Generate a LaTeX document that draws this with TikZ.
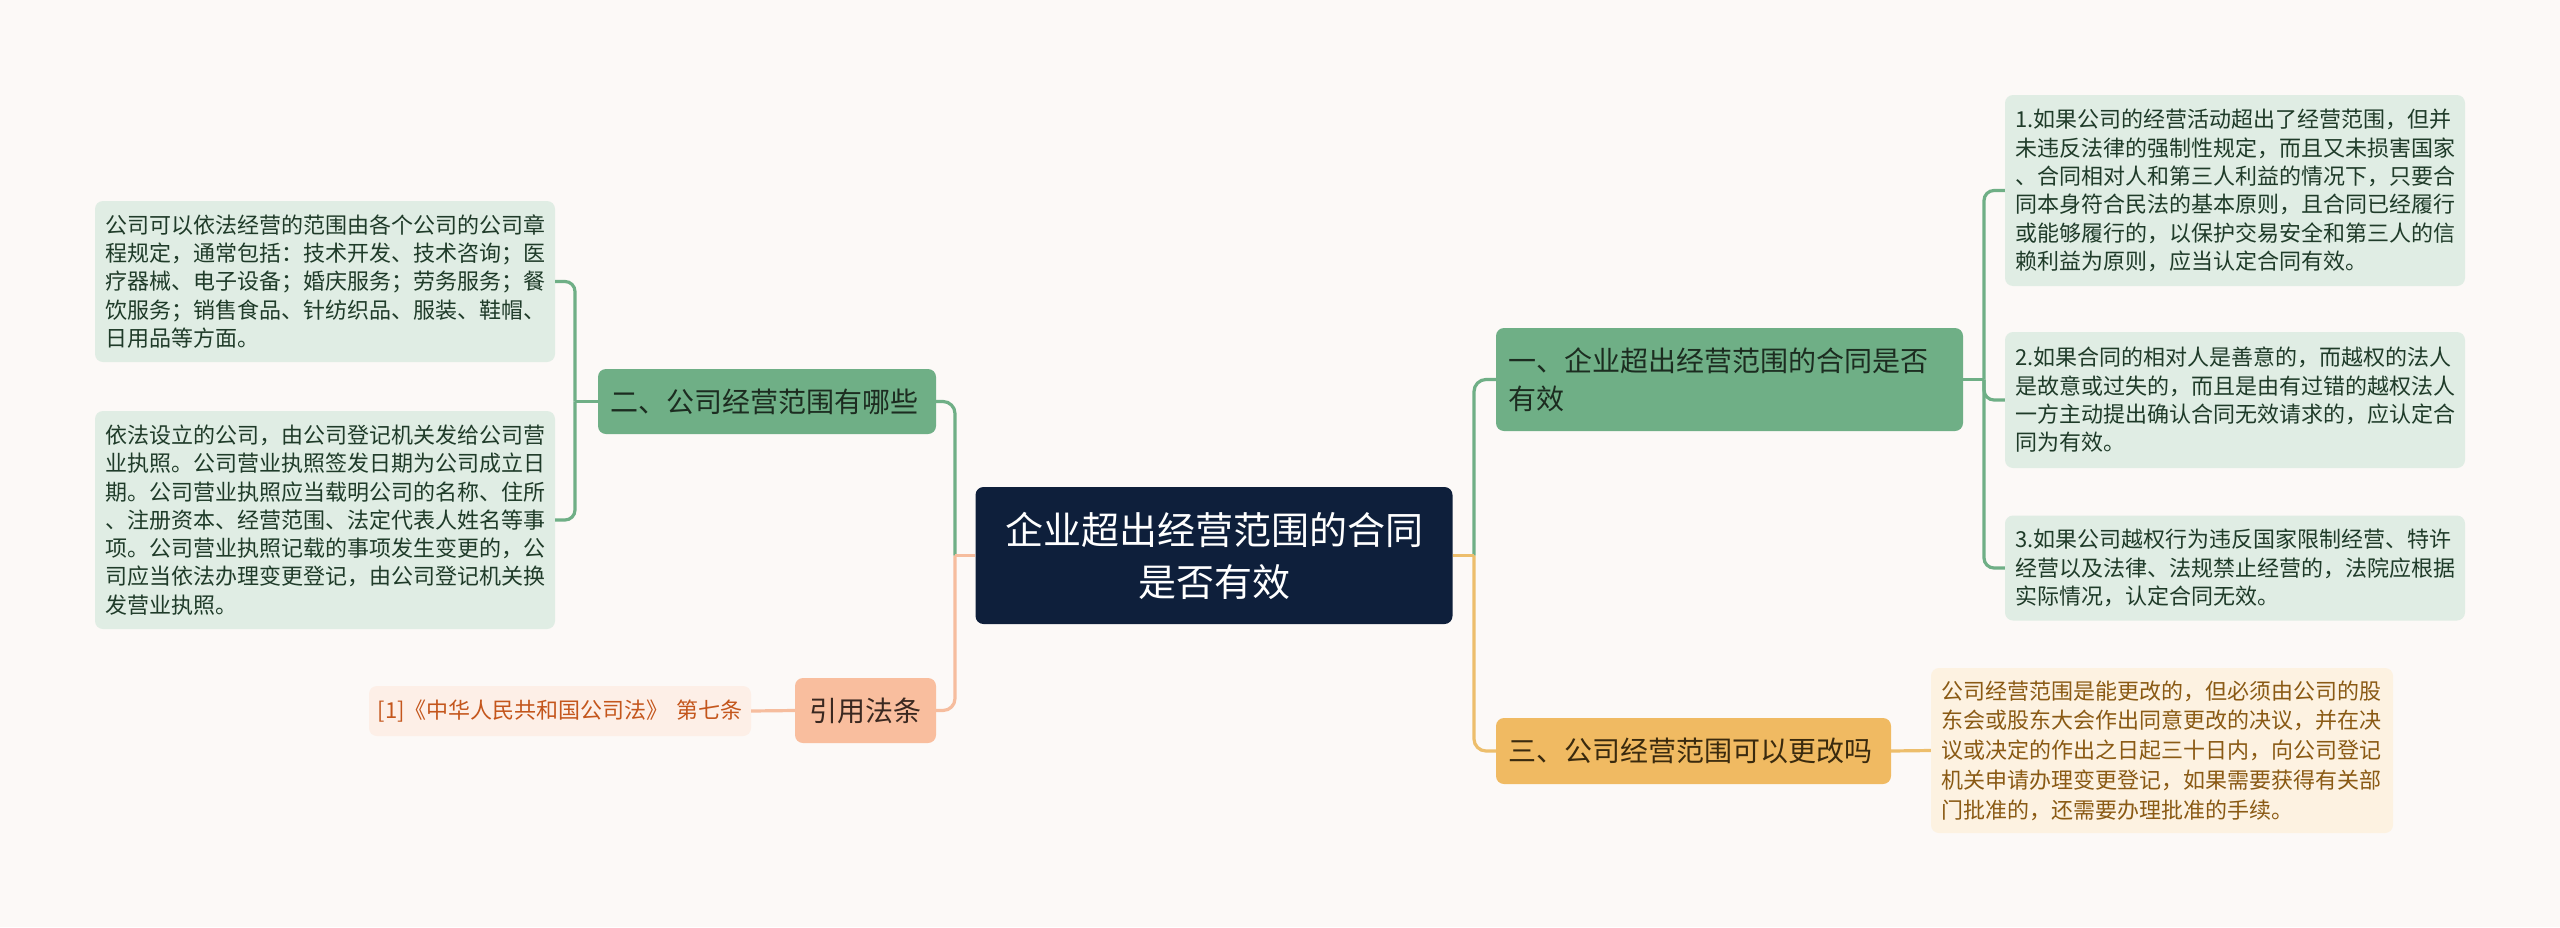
\documentclass[tikz,border=0pt]{standalone}
\usepackage{fontspec}
\newfontfamily\cjk{Noto Sans CJK SC}
\definecolor{bg}{HTML}{FCF9F7}
\definecolor{navy}{HTML}{0E1F3B}
\definecolor{gbr}{HTML}{6FAF86}
\definecolor{gtxt}{HTML}{1C2C20}
\definecolor{gleaf}{HTML}{E0EDE4}
\definecolor{gltxt}{HTML}{1F3B29}
\definecolor{obr}{HTML}{F0BA62}
\definecolor{otxt}{HTML}{3A2A0E}
\definecolor{oleaf}{HTML}{FDF2E1}
\definecolor{oltxt}{HTML}{8A5A14}
\definecolor{oline}{HTML}{EDBE6C}
\definecolor{sbr}{HTML}{F9BE9E}
\definecolor{stxt}{HTML}{3A2820}
\definecolor{sleaf}{HTML}{FDEFE7}
\definecolor{sltxt}{HTML}{C4561C}
\definecolor{sline}{HTML}{F6BD9E}
\tikzset{
  base/.style={rounded corners=8pt, inner ysep=0pt, anchor=center},
  root/.style={base, fill=navy, text=white, align=center, inner xsep=10pt,
    font=\cjk\fontsize{38pt}{52pt}\selectfont},
  brg/.style={base, fill=gbr, text=gtxt, align=left, inner xsep=12pt,
    font=\cjk\fontsize{28pt}{38pt}\selectfont},
  bro/.style={base, fill=obr, text=otxt, align=left, inner xsep=12pt,
    font=\cjk\fontsize{28pt}{38pt}\selectfont},
  brs/.style={base, fill=sbr, text=stxt, align=center, inner xsep=8pt,
    font=\cjk\fontsize{28pt}{38pt}\selectfont},
  leafg/.style={base, fill=gleaf, text=gltxt, align=left, inner xsep=10pt,
    font=\cjk\fontsize{22pt}{28.3pt}\selectfont},
  leafo/.style={base, fill=oleaf, text=oltxt, align=left, inner xsep=10pt,
    font=\cjk\fontsize{22pt}{29.8pt}\selectfont},
  leafs/.style={base, fill=sleaf, text=sltxt, align=center, inner xsep=8pt,
    font=\cjk\fontsize{22pt}{28pt}\selectfont},
  lg/.style={draw=gbr, line width=3.2pt},
  lo/.style={draw=oline, line width=3.2pt},
  ls/.style={draw=sline, line width=3.2pt},
}
\begin{document}
\begin{tikzpicture}[x=1pt,y=-1pt]
\useasboundingbox (0,0) rectangle (2560,927);
\fill[bg] (0,0) rectangle (2560,927);

% nodes
\node[root, text width=457pt, minimum height=137pt] (c) at (1214,555.5)
  {企业超出经营范围的合同\\是否有效};
\node[brg, text width=443pt, minimum height=103pt] (b1) at (1729.5,379.5)
  {一、企业超出经营范围的合同是否\\有效};
\node[bro, text width=371pt, minimum height=66pt] (b3) at (1693.5,751)
  {三、公司经营范围可以更改吗};
\node[brg, text width=314pt, minimum height=65pt] (b2) at (767,401.5)
  {二、公司经营范围有哪些};
\node[brs, text width=125pt, minimum height=65pt] (t) at (865.5,710.5)
  {引用法条};

\node[leafg, text width=440pt, minimum height=161pt] (la) at (325,281.5)
  {公司可以依法经营的范围由各个公司的公司章\\
   程规定，通常包括：技术开发、技术咨询；医\\
   疗器械、电子设备；婚庆服务；劳务服务；餐\\
   饮服务；销售食品、针纺织品、服装、鞋帽、\\
   日用品等方面。};
\node[leafg, text width=440pt, minimum height=218pt] (lb) at (325,520)
  {依法设立的公司，由公司登记机关发给公司营\\
   业执照。公司营业执照签发日期为公司成立日\\
   期。公司营业执照应当载明公司的名称、住所\\
   、注册资本、经营范围、法定代表人姓名等事\\
   项。公司营业执照记载的事项发生变更的，公\\
   司应当依法办理变更登记，由公司登记机关换\\
   发营业执照。};
\node[leafs, text width=366pt, minimum height=50pt] (ci) at (560,711)
  {[1]《中华人民共和国公司法》 第七条};

\node[leafg, text width=440pt, minimum height=191pt] (l1) at (2235,190.5)
  {1.如果公司的经营活动超出了经营范围，但并\\
   未违反法律的强制性规定，而且又未损害国家\\
   、合同相对人和第三人利益的情况下，只要合\\
   同本身符合民法的基本原则，且合同已经履行\\
   或能够履行的，以保护交易安全和第三人的信\\
   赖利益为原则，应当认定合同有效。};
\node[leafg, text width=440pt, minimum height=136pt] (l2) at (2235,400)
  {2.如果合同的相对人是善意的，而越权的法人\\
   是故意或过失的，而且是由有过错的越权法人\\
   一方主动提出确认合同无效请求的，应认定合\\
   同为有效。};
\node[leafg, text width=440pt, minimum height=105pt] (l3) at (2235,568)
  {3.如果公司越权行为违反国家限制经营、特许\\
   经营以及法律、法规禁止经营的，法院应根据\\
   实际情况，认定合同无效。};
\node[leafo, text width=442pt, minimum height=165pt] (lc) at (2162,750.5)
  {公司经营范围是能更改的，但必须由公司的股\\
   东会或股东大会作出同意更改的决议，并在决\\
   议或决定的作出之日起三十日内，向公司登记\\
   机关申请办理变更登记，如果需要获得有关部\\
   门批准的，还需要办理批准的手续。};

% junction coordinates
\coordinate (jr) at (1474,555.5);
\coordinate (jl) at (955,555.5);
\coordinate (j1) at (1984,379.5);
\coordinate (j2) at (575,401.5);

% connectors: center right
\draw[lg, rounded corners=12pt] (jr) -- (jr |- b1.west) -- (b1.west);
\draw[lo, rounded corners=12pt] (jr) -- (jr |- b3.west) -- (b3.west);
\draw[lo] (c.east) -- (jr);
% center left
\draw[lg, rounded corners=12pt] (jl) -- (jl |- b2.east) -- (b2.east);
\draw[ls, rounded corners=12pt] (jl) -- (jl |- t.east) -- (t.east);
\draw[ls] (c.west) -- (jl);
% branch one
\draw[lg] (b1.east) -- (j1);
\draw[lg, rounded corners=10pt] (j1) -- (j1 |- l1.west) -- (l1.west);
\draw[lg, rounded corners=10pt] (j1) -- (j1 |- l2.west) -- (l2.west);
\draw[lg, rounded corners=10pt] (j1) -- (j1 |- l3.west) -- (l3.west);
% branch two
\draw[lg] (b2.west) -- (j2);
\draw[lg, rounded corners=10pt] (j2) -- (j2 |- la.east) -- (la.east);
\draw[lg, rounded corners=10pt] (j2) -- (j2 |- lb.east) -- (lb.east);
% branch three and citation
\draw[lo] (b3.east) -- (lc.west);
\draw[ls] (t.west) -- (ci.east);
\end{tikzpicture}
\end{document}
